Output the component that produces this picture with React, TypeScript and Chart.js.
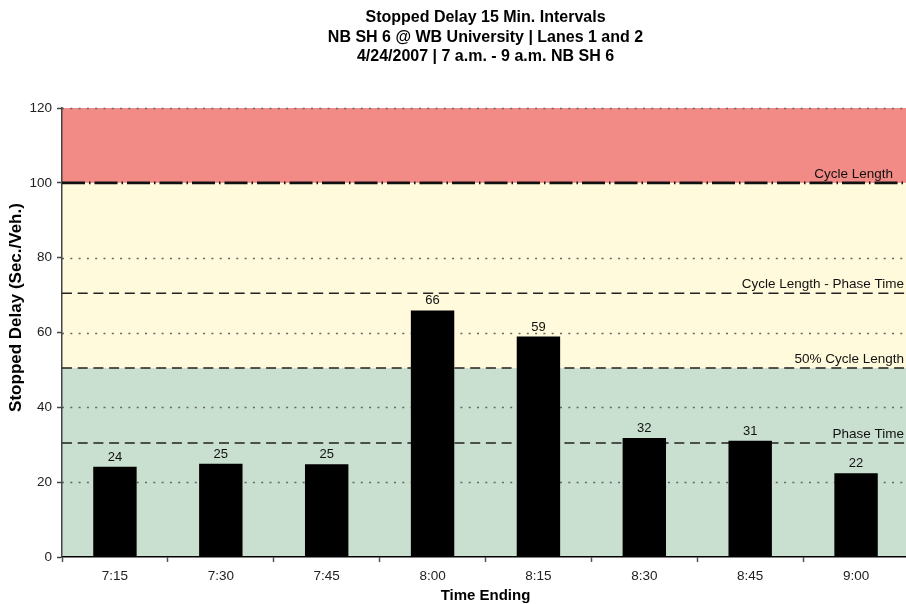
import React, { useEffect, useRef } from "react";
import { Chart, registerables } from "chart.js";

Chart.register(...registerables);

// ---- data ----
const categories = ["7:15", "7:30", "7:45", "8:00", "8:15", "8:30", "8:45", "9:00"];
const delayValues = [24.1, 24.9, 24.8, 65.9, 58.9, 31.8, 31.1, 22.4];
const delayLabels = ["24", "25", "25", "66", "59", "32", "31", "22"];
const yTickValues = [0, 20, 40, 60, 80, 100, 120];
const titleLines = [
  "Stopped Delay 15 Min. Intervals",
  "NB SH 6 @ WB University | Lanes 1 and 2",
  "4/24/2007 | 7 a.m. - 9 a.m. NB SH 6",
];
const refNames = ["Cycle Length", "Cycle Length - Phase Time", "50% Cycle Length", "Phase Time"];
const refValues = [100, 70.5, 50.5, 30.5];
const bandLimits = [0, 50.5, 100, 120];
const yAxisTitle = "Stopped Delay (Sec./Veh.)";
const xAxisTitle = "Time Ending";

// ---- styles ----
const FONT = '"Liberation Sans", Arial, sans-serif';
const bandColors = ["#C9DFCF", "#FFFADB", "#F28A85"];

const decorPlugin = {
  id: "decor",
  beforeDraw(chart: any) {
    const { ctx, chartArea: a, scales } = chart;
    const y = scales.y;
    ctx.save();
    for (let i = 0; i < bandColors.length; i++) {
      const top = y.getPixelForValue(bandLimits[i + 1]);
      const bot = y.getPixelForValue(bandLimits[i]);
      ctx.fillStyle = bandColors[i];
      ctx.fillRect(a.left, top, a.right - a.left, bot - top);
    }
    // dotted grid lines
    ctx.strokeStyle = "#666";
    ctx.lineWidth = 1.5;
    ctx.setLineDash([2, 6.3]);
    for (const v of yTickValues) {
      if (v === 0 || v === 100) continue;
      const py = Math.round(y.getPixelForValue(v)) + 0.5;
      ctx.beginPath();
      ctx.moveTo(a.left, py);
      ctx.lineTo(a.right, py);
      ctx.stroke();
    }
    ctx.restore();
  },
  beforeDatasetsDraw(chart: any) {
    const { ctx, chartArea: a, scales } = chart;
    const y = scales.y;
    ctx.save();
    refValues.forEach((v, i) => {
      const py = y.getPixelForValue(v);
      ctx.beginPath();
      if (i === 0) {
        ctx.strokeStyle = "#111";
        ctx.lineWidth = 2.6;
        ctx.setLineDash([23, 4, 1.5, 4]);
      } else {
        ctx.strokeStyle = "#222";
        ctx.lineWidth = 1.5;
        ctx.setLineDash([10, 5.7]);
      }
      ctx.moveTo(a.left, py);
      ctx.lineTo(a.right, py);
      ctx.stroke();
    });
    ctx.restore();
  },
  afterDatasetsDraw(chart: any) {
    const { ctx, chartArea: a, scales } = chart;
    const y = scales.y;
    ctx.save();
    // reference labels
    ctx.fillStyle = "#111";
    ctx.font = `13.5px ${FONT}`;
    ctx.textAlign = "right";
    ctx.textBaseline = "alphabetic";
    refValues.forEach((v, i) => {
      const py = y.getPixelForValue(v);
      const rx = i === 0 ? a.right - 16 : a.right - 5;
      ctx.fillText(refNames[i], rx, py - 5);
    });
    // bar value labels
    const meta = chart.getDatasetMeta(0);
    ctx.font = `13px ${FONT}`;
    ctx.textAlign = "center";
    meta.data.forEach((bar: any, i: number) => {
      ctx.fillText(delayLabels[i], bar.x, bar.y - 6);
    });
    ctx.restore();
  },
  afterDraw(chart: any) {
    const { ctx, chartArea: a } = chart;
    ctx.save();
    ctx.fillStyle = "#000";
    ctx.textAlign = "center";
    ctx.textBaseline = "middle";
    ctx.font = `bold 16px ${FONT}`;
    const cx = (a.left + a.right) / 2;
    const ys = [17.7, 37.3, 56.7];
    titleLines.forEach((t, i) => ctx.fillText(t, cx, ys[i]));
    // x axis title
    ctx.font = `bold 15px ${FONT}`;
    ctx.fillText(xAxisTitle, cx, 596);
    // y axis title
    ctx.translate(16, 307.5);
    ctx.rotate(-Math.PI / 2);
    ctx.font = `bold 17px ${FONT}`;
    ctx.fillText(yAxisTitle, 0, 0);
    ctx.restore();
  },
};

export default function App() {
  const ref = useRef<HTMLCanvasElement | null>(null);
  useEffect(() => {
    if (!ref.current) return;
    const chart = new Chart(ref.current, {
      type: "bar",
      data: {
        labels: categories,
        datasets: [
          {
            data: delayValues,
            backgroundColor: "#000",
            borderWidth: 0,
            barPercentage: 0.41,
            categoryPercentage: 1,
          },
        ],
      },
      options: {
        responsive: false,
        animation: false,
        events: [],
        layout: { padding: { top: 108, right: 1, left: 0, bottom: 0 } },
        plugins: {
          legend: { display: false },
          title: { display: false },
          tooltip: { enabled: false },
        },
        scales: {
          x: {
            offset: true,
            grid: {
              display: true,
              offset: true,
              drawOnChartArea: false,
              drawTicks: true,
              tickLength: 5,
              tickColor: "#555",
              tickWidth: 1.5,
            },
            border: { display: true, color: "#000", width: 1.5 },
            ticks: {
              color: "#222",
              font: { family: FONT, size: 13.5 },
              padding: 6,
              maxRotation: 0,
              autoSkip: false,
            },
            afterFit: (s: any) => {
              s.height = 47;
            },
          },
          y: {
            min: 0,
            max: 120,
            grid: {
              display: true,
              drawOnChartArea: false,
              drawTicks: true,
              tickLength: 5,
              tickColor: "#444",
              tickWidth: 1.5,
            },
            border: { display: true, color: "#444", width: 1.5 },
            ticks: {
              stepSize: 20,
              color: "#222",
              font: { family: FONT, size: 13.5 },
              padding: 5,
            },
            afterFit: (s: any) => {
              s.width = 62;
            },
          },
        },
      },
      plugins: [decorPlugin],
    });
    return () => chart.destroy();
  }, []);
  return (
    <div
      style={{
        position: "fixed",
        left: 0,
        top: 0,
        width: 906,
        height: 604,
        overflow: "hidden",
        background: "#fff",
      }}
    >
      <canvas ref={ref} width={910} height={604} style={{ width: 910, height: 604, display: "block" }} />
    </div>
  );
}
